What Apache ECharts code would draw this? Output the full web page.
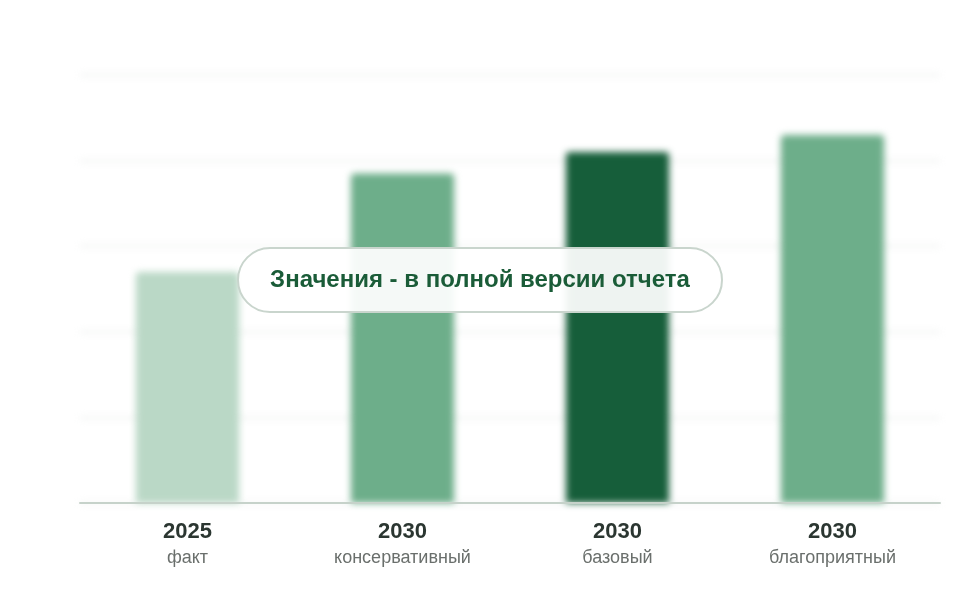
<!DOCTYPE html>
<html><head><meta charset="utf-8">
<script src="https://cdn.jsdelivr.net/npm/echarts@6/dist/echarts.min.js"></script>
<style>
html,body{margin:0;padding:0;background:#fff;}
#wrap{position:relative;width:960px;height:600px;}
#bg,#fg{position:absolute;left:0;top:0;width:960px;height:600px;}
#bg{filter:blur(3.5px);}
</style></head>
<body>
<div id="wrap"><div id="bg"></div><div id="fg"></div></div>
<script>
const years = ['2025','2030','2030','2030'];
const scenarios = ['факт','консервативный','базовый','благоприятный'];
const values = [54, 77, 82, 86];
const barColors = ['#bad8c6','#6dae8a','#165e3a','#6dae8a'];
const overlayText = 'Значения - в полной версии отчета';

const categories = years.map((y,i)=>y+'\n'+scenarios[i]);
const grid = {left:80,right:20,top:75,bottom:97};
const yAxisBase = {type:'value',min:0,max:100,interval:20};

const bg = echarts.init(document.getElementById('bg'));
bg.setOption({
  animation:false,
  grid:grid,
  xAxis:{type:'category',data:categories,axisLine:{show:false},axisTick:{show:false},axisLabel:{show:false}},
  yAxis:Object.assign({},yAxisBase,{axisLabel:{show:false},axisLine:{show:false},axisTick:{show:false},
    splitLine:{show:true,lineStyle:{color:'#ebeeec',width:2}}}),
  series:[{type:'bar',barWidth:'48%',
    data:values.map((v,i)=>({value:v,itemStyle:{color:barColors[i]}})),
    itemStyle:{borderRadius:[4,4,0,0]}}]
});

const fg = echarts.init(document.getElementById('fg'));
fg.setOption({
  animation:false,
  grid:grid,
  xAxis:{type:'category',data:categories,
    axisLine:{show:true,lineStyle:{color:'#c6d2ca',width:2}},
    axisTick:{show:false},
    axisLabel:{margin:16,fontFamily:'Liberation Sans, Arial, sans-serif',
      formatter:function(v){const p=v.split('\n');return '{y|'+p[0]+'}\n{s|'+p[1]+'}';},
      rich:{
        y:{fontSize:22,fontWeight:'bold',color:'#2b3631',lineHeight:26,fontFamily:'Liberation Sans, Arial, sans-serif'},
        s:{fontSize:18,color:'#6a6f6c',lineHeight:26,fontFamily:'Liberation Sans, Arial, sans-serif'}
      }}},
  yAxis:Object.assign({},yAxisBase,{show:false,splitLine:{show:false}}),
  series:[],
  graphic:[{type:'group',left:'center',top:247,children:[
    {type:'rect',shape:{x:0,y:0,width:484,height:64,r:32},
      style:{fill:'rgba(255,255,255,0.93)',stroke:'#c9d5cd',lineWidth:2}},
    {type:'text',x:242,y:32,style:{text:overlayText,fill:'#1a5c38',
      font:'bold 24px "Liberation Sans", Arial, sans-serif',align:'center',verticalAlign:'middle'}}
  ]}]
});
</script>
</body></html>
